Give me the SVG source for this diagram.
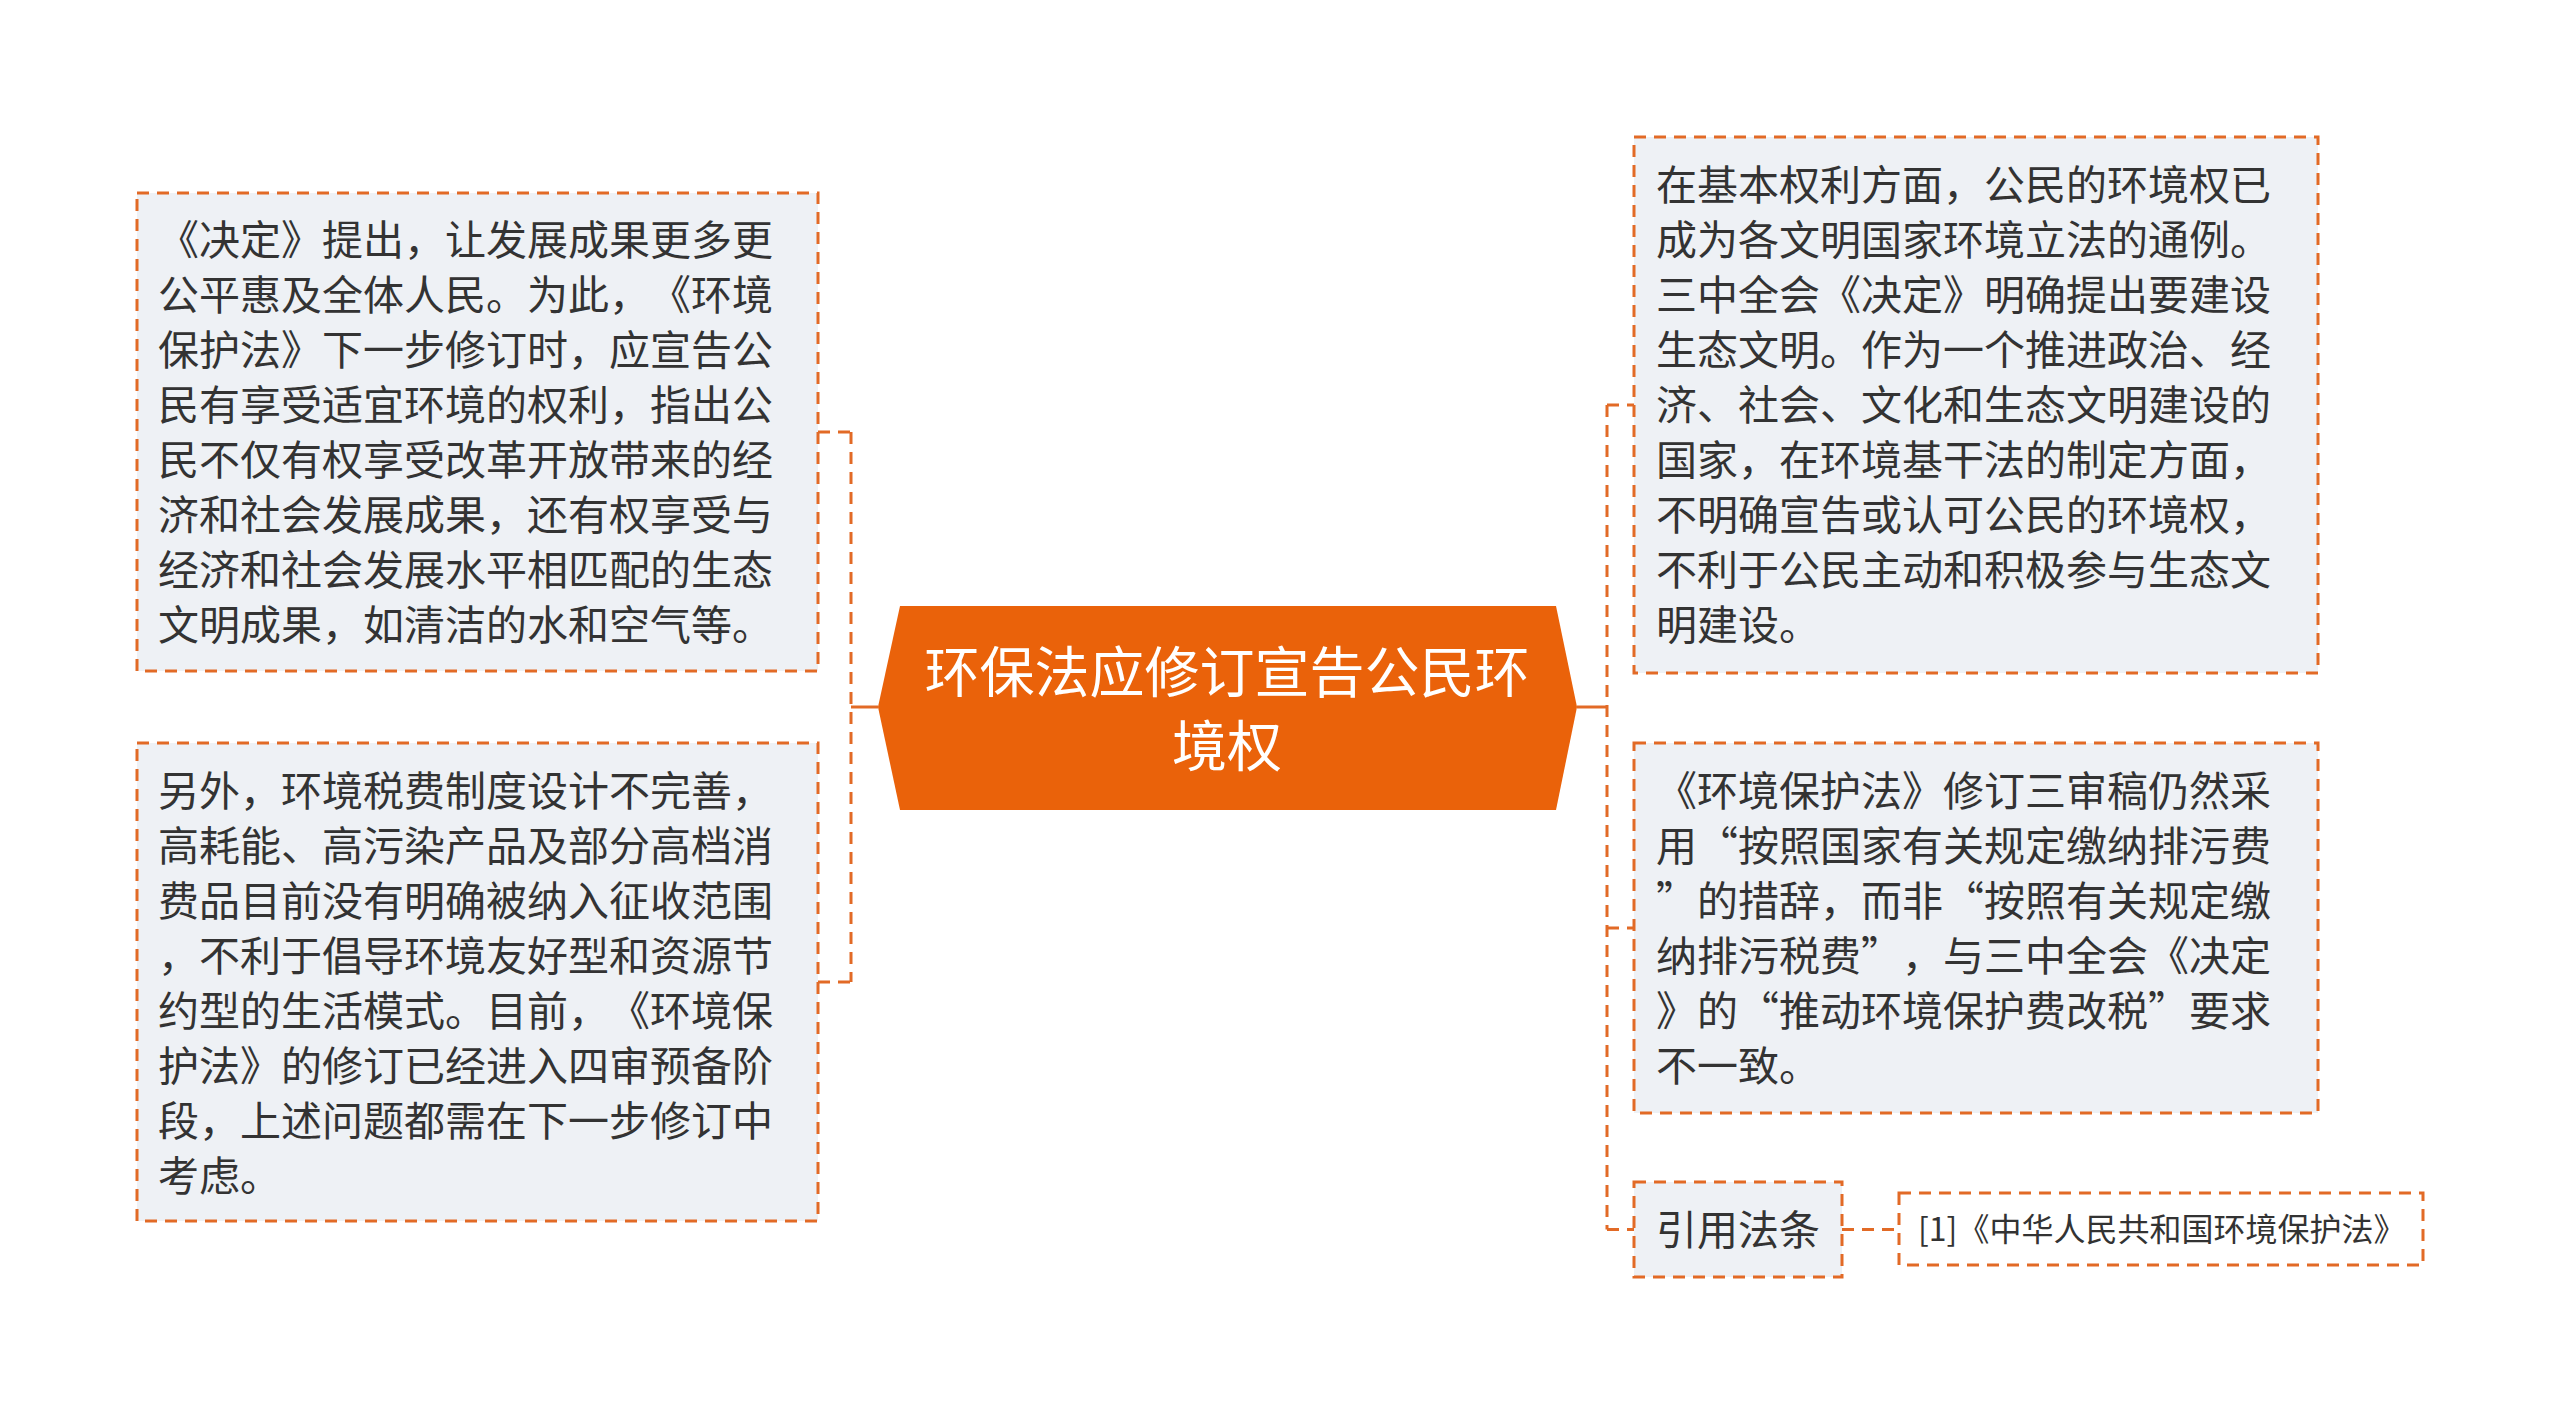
<svg xmlns="http://www.w3.org/2000/svg" width="2560" height="1415" viewBox="0 0 2560 1415">
<style>
text{text-spacing-trim:space-all;font-kerning:none}
.box{fill:#EEF1F5;stroke:#E26A26;stroke-width:3;stroke-dasharray:12 8}
.ref{fill:#FFFFFF;stroke:#E26A26;stroke-width:3;stroke-dasharray:12 8}
.t{font-family:"Noto Sans CJK SC","Noto Sans",sans-serif;font-size:41px;fill:#333333}
.ts{font-family:"Noto Sans CJK SC","Noto Sans",sans-serif;font-size:32px;fill:#333333}
.ct{font-family:"Noto Sans CJK SC","Noto Sans",sans-serif;font-size:55px;fill:#FFFFFF;text-anchor:middle}
.solid{fill:none;stroke:#E26A26;stroke-width:3}
.dash{fill:none;stroke:#E26A26;stroke-width:3;stroke-dasharray:12 8}
</style>
<rect width="2560" height="1415" fill="#FFFFFF"/>
<g id="connectors">
<path class="solid" d="M878 707H851"/>
<path class="dash" d="M851 432V982M818 432H851M818 982H851"/>
<path class="solid" d="M1577 707H1607"/>
<path class="dash" d="M1607 405V1229.5M1607 405H1634M1607 928H1634M1607 1229.5H1634"/>
<path class="dash" d="M1842 1229.5H1899"/>
</g>
<g id="center">
<polygon points="900,606 1556,606 1577,707 1556,810 900,810 878,707" fill="#EA620A"/>
<text class="ct"><tspan x="1227" y="692">环保法应修订宣告公民环</tspan><tspan x="1227" y="766">境权</tspan></text>
</g>
<g id="left1">
<rect class="box" x="137" y="193" width="681" height="478"/>
<text class="t">
<tspan x="158" y="255">《决定》提出，让发展成果更多更</tspan>
<tspan x="158" y="310">公平惠及全体人民。为此，《环境</tspan>
<tspan x="158" y="365">保护法》下一步修订时，应宣告公</tspan>
<tspan x="158" y="420">民有享受适宜环境的权利，指出公</tspan>
<tspan x="158" y="475">民不仅有权享受改革开放带来的经</tspan>
<tspan x="158" y="530">济和社会发展成果，还有权享受与</tspan>
<tspan x="158" y="585">经济和社会发展水平相匹配的生态</tspan>
<tspan x="158" y="640">文明成果，如清洁的水和空气等。</tspan>
</text>
</g>
<g id="left2">
<rect class="box" x="137" y="743" width="681" height="478"/>
<text class="t">
<tspan x="158" y="806">另外，环境税费制度设计不完善，</tspan>
<tspan x="158" y="861">高耗能、高污染产品及部分高档消</tspan>
<tspan x="158" y="916">费品目前没有明确被纳入征收范围</tspan>
<tspan x="158" y="971">，不利于倡导环境友好型和资源节</tspan>
<tspan x="158" y="1026">约型的生活模式。目前，《环境保</tspan>
<tspan x="158" y="1081">护法》的修订已经进入四审预备阶</tspan>
<tspan x="158" y="1136">段，上述问题都需在下一步修订中</tspan>
<tspan x="158" y="1191">考虑。</tspan>
</text>
</g>
<g id="right1">
<rect class="box" x="1634" y="137" width="684" height="536"/>
<text class="t">
<tspan x="1656" y="200">在基本权利方面，公民的环境权已</tspan>
<tspan x="1656" y="255">成为各文明国家环境立法的通例。</tspan>
<tspan x="1656" y="310">三中全会《决定》明确提出要建设</tspan>
<tspan x="1656" y="365">生态文明。作为一个推进政治、经</tspan>
<tspan x="1656" y="420">济、社会、文化和生态文明建设的</tspan>
<tspan x="1656" y="475">国家，在环境基干法的制定方面，</tspan>
<tspan x="1656" y="530">不明确宣告或认可公民的环境权，</tspan>
<tspan x="1656" y="585">不利于公民主动和积极参与生态文</tspan>
<tspan x="1656" y="640">明建设。</tspan>
</text>
</g>
<g id="right2">
<rect class="box" x="1634" y="743" width="684" height="370"/>
<text class="t">
<tspan x="1656" y="806">《环境保护法》修订三审稿仍然采</tspan>
<tspan x="1656" y="861">用“按照国家有关规定缴纳排污费</tspan>
<tspan x="1656" y="916">”的措辞，而非“按照有关规定缴</tspan>
<tspan x="1656" y="971">纳排污税费”，与三中全会《决定</tspan>
<tspan x="1656" y="1026">》的“推动环境保护费改税”要求</tspan>
<tspan x="1656" y="1081">不一致。</tspan>
</text>
</g>
<g id="refs">
<rect class="box" x="1634" y="1182" width="208" height="95"/>
<text class="t" x="1656" y="1245">引用法条</text>
</g>
<g id="ref1">
<rect class="ref" x="1899" y="1193" width="524" height="72"/>
<text class="ts" x="1918" y="1241">[1]《中华人民共和国环境保护法》</text>
</g>
</svg>
